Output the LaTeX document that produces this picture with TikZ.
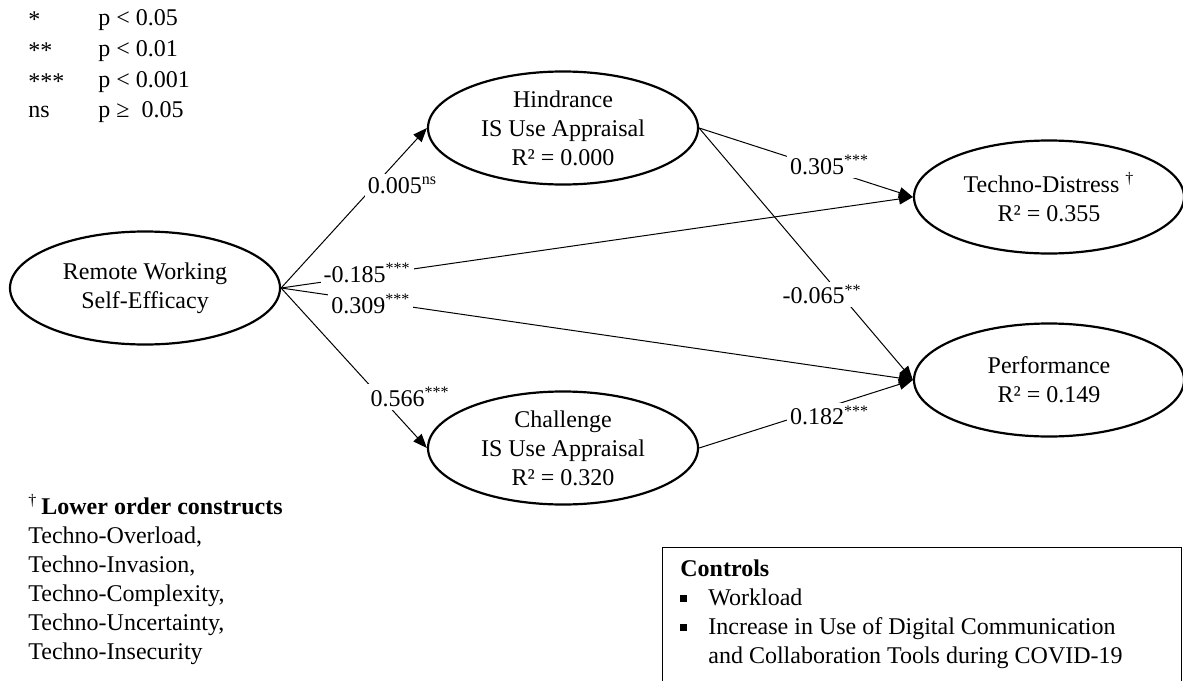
\documentclass[tikz,border=0pt]{standalone}
\usepackage{fontspec}
\setmainfont{Liberation Serif}
\usetikzlibrary{arrows.meta, shapes.geometric}

\newcommand{\sig}[1]{\textsuperscript{#1}}
\newcommand{\sqbul}{\makebox[14pt][l]{\rule[0.3ex]{3.5pt}{3.5pt}}}
\newcommand{\dfont}{\fontsize{12pt}{14.5pt}\selectfont}

\begin{document}
\begin{tikzpicture}[x=0.5pt, y=-0.5pt,
    construct/.style={draw, ellipse, line width=1.1pt,
                      minimum width=135pt, minimum height=56.5pt,
                      inner sep=0pt, align=center, font=\dfont},
    coef/.style={fill=white, inner sep=1.5pt, font=\dfont},
    legend/.style={anchor=west, inner sep=0pt, font=\dfont},
    notes/.style={anchor=north west, align=left, inner sep=0pt, font=\dfont},
    arr/.style={-{Triangle[length=7pt, width=5.5pt]}, line width=0.5pt}
  ]
    \useasboundingbox (0,0) rectangle (1183,680);
    \clip (0,0) rectangle (1183,680);

    \node[legend] (star1) at (28, 20)  {*};
    \node[legend] (star2) at (28, 51)  {**};
    \node[legend] (star3) at (28, 82)  {***};
    \node[legend] (ns)    at (28,112)  {ns};
    \node[legend] (p1)    at (98, 20)  {p < 0.05};
    \node[legend] (p2)    at (98, 51)  {p < 0.01};
    \node[legend] (p3)    at (98, 82)  {p < 0.001};
    \node[legend] (p4)    at (98,112)  {p ≥\ \ 0.05};

    \node[construct] (rwse) at (145,288) {Remote Working\\Self-Efficacy};
    \node[construct] (hind) at (563,128) {Hindrance\\IS\ Use Appraisal\\R² = 0.000};
    \node[construct] (chal) at (563,448) {Challenge\\IS\ Use Appraisal\\R² = 0.320};
    \node[construct] (tdis) at (1049,197) {Techno-Distress \sig{\textdagger}\\R² = 0.355};
    \node[construct] (perf) at (1049,380) {Performance\\R² = 0.149};

    \draw[arr] (rwse.east) -- node[coef, pos=0.64, xshift=14pt] {0.005\sig{ns}} (hind.west);
    \draw[arr] (rwse.east) -- node[coef, pos=0.68, xshift=15pt] {0.566\sig{***}} (chal.west);
    \draw[arr] (rwse.east) -- node[coef, pos=0.136, yshift=1.5pt] {-0.185\sig{***}} (tdis.west);
    \draw[arr] (rwse.east) -- node[coef, pos=0.142, yshift=-1.5pt] {0.309\sig{***}} (perf.west);
    \draw[arr] (hind.east) -- node[coef, pos=0.61, yshift=2.5pt] {0.305\sig{***}} (tdis.west);
    \draw[arr] (hind.east) -- node[coef, pos=0.66, xshift=-9pt] {-0.065\sig{**}} (perf.west);
    \draw[arr] (chal.east) -- node[coef, pos=0.61, yshift=-4.5pt] {0.182\sig{***}} (perf.west);

    \node[notes] (lower) at (28,494) {\sig{\textdagger}\,\textbf{Lower order constructs}\\
      Techno-Overload,\\Techno-Invasion,\\Techno-Complexity,\\
      Techno-Uncertainty,\\Techno-Insecurity};

    \draw[line width=0.5pt] (662,547) rectangle (1181,720);
    \node[notes] (ctrl) at (680,559) {\textbf{Controls}\\
      \sqbul Workload\\
      \sqbul Increase in Use of Digital Communication\\
      \hspace*{14pt}and Collaboration Tools during COVID-19};
\end{tikzpicture}
\end{document}
